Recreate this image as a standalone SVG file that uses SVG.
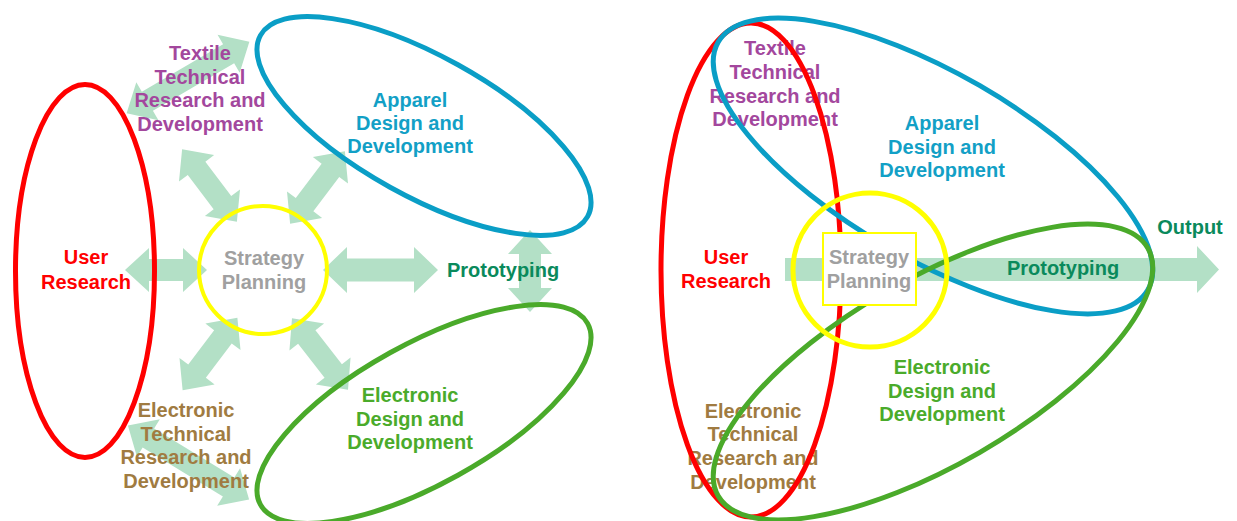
<svg xmlns="http://www.w3.org/2000/svg" width="1237" height="521" viewBox="0 0 1237 521">
<style>
  text { font-family: "Liberation Sans", Arial, sans-serif; font-weight: bold; font-size: 20px; text-anchor: middle; }
  .arrow { fill: #b3e0c6; stroke: none; }
  .ring { fill: none; stroke-width: 5; }
  .red { stroke: #ff0000; }
  .blue { stroke: #0a9ec6; }
  .green { stroke: #4aaa2a; }
  .yellow { stroke: #ffff00; }
  .t-red { fill: #ff0000; }
  .t-purple { fill: #a3479d; }
  .t-blue { fill: #12a0c6; }
  .t-green { fill: #4aab2b; }
  .t-brown { fill: #a07b41; }
  .t-proto { fill: #0a8a5c; }
  .t-gray { fill: #a0a0a0; }
</style>
<defs>
  <path id="dbl82" d="M-41,0 L-17,-22 L-17,-11 L17,-11 L17,-22 L41,0 L17,22 L17,11 L-17,11 L-17,22 Z"/>
  <path id="dbl91" d="M-45.5,0 L-21.5,-22 L-21.5,-11 L21.5,-11 L21.5,-22 L45.5,0 L21.5,22 L21.5,11 L-21.5,11 L-21.5,22 Z"/>
  <path id="dbl115" d="M-57.5,0 L-33.5,-23 L-33.5,-11.5 L33.5,-11.5 L33.5,-23 L57.5,0 L33.5,23 L33.5,11.5 L-33.5,11.5 L-33.5,23 Z"/>
  <path id="dbl142" d="M-71,0 L-47,-22 L-47,-11 L47,-11 L47,-22 L71,0 L47,22 L47,11 L-47,11 L-47,22 Z"/>
</defs>

<!-- ===== Left diagram ===== -->
<g id="connectors-left">
  <use href="#dbl82" class="arrow" transform="translate(166,270)"/>
  <use href="#dbl115" class="arrow" transform="translate(380.5,270)"/>
  <use href="#dbl91" class="arrow" transform="translate(209.5,185.5) rotate(53)"/>
  <use href="#dbl91" class="arrow" transform="translate(317.5,187.5) rotate(127)"/>
  <use href="#dbl91" class="arrow" transform="translate(210,354) rotate(127)"/>
  <use href="#dbl91" class="arrow" transform="translate(320,354) rotate(52)"/>
  <use href="#dbl142" class="arrow" transform="translate(188,77.5) rotate(-30.2)"/>
  <use href="#dbl142" class="arrow" transform="translate(188.5,462.5) rotate(31.4)"/>
  <use href="#dbl82" class="arrow" transform="translate(530,271) rotate(90)"/>
</g>

<g id="user-research-left">
  <ellipse class="ring red" cx="85" cy="271" rx="69.5" ry="186.5"/>
  <text class="t-red" x="86" y="264">User</text>
  <text class="t-red" x="86" y="289">Research</text>
</g>
<g id="textile-left">
  <text class="t-purple" x="200" y="60">Textile</text>
  <text class="t-purple" x="200" y="84">Technical</text>
  <text class="t-purple" x="200" y="107">Research and</text>
  <text class="t-purple" x="200" y="131">Development</text>
</g>
<g id="apparel-left">
  <ellipse class="ring blue" cx="424" cy="126" rx="187" ry="70" transform="rotate(29 424 126)"/>
  <text class="t-blue" x="410" y="107">Apparel</text>
  <text class="t-blue" x="410" y="130">Design and</text>
  <text class="t-blue" x="410" y="153">Development</text>
</g>
<g id="electronic-design-left">
  <ellipse class="ring green" cx="424" cy="414" rx="187" ry="70" transform="rotate(-29 424 414)"/>
  <text class="t-green" x="410" y="402">Electronic</text>
  <text class="t-green" x="410" y="426">Design and</text>
  <text class="t-green" x="410" y="449">Development</text>
</g>
<g id="electronic-tech-left">
  <text class="t-brown" x="186" y="417">Electronic</text>
  <text class="t-brown" x="186" y="441">Technical</text>
  <text class="t-brown" x="186" y="464">Research and</text>
  <text class="t-brown" x="186" y="488">Development</text>
</g>
<g id="strategy-left">
  <circle class="yellow" cx="263" cy="270" r="64" fill="none" stroke-width="4"/>
  <text class="t-gray" x="264" y="265">Strategy</text>
  <text class="t-gray" x="264" y="289">Planning</text>
</g>
<g id="prototyping-left">
  <text class="t-proto" x="503" y="277">Prototyping</text>
</g>

<!-- ===== Right diagram ===== -->
<g id="connectors-right">
  <path class="arrow" d="M785,258 H1197 V246 L1219,269.5 L1197,293 V281 H785 Z"/>
</g>
<g id="prototyping-right">
  <text class="t-proto" x="1063" y="275">Prototyping</text>
  <text class="t-proto" x="1190" y="234">Output</text>
</g>
<g id="textile-right">
  <text class="t-purple" x="775" y="55">Textile</text>
  <text class="t-purple" x="775" y="79">Technical</text>
  <text class="t-purple" x="775" y="103">Research and</text>
  <text class="t-purple" x="775" y="126">Development</text>
</g>
<g id="electronic-tech-right">
  <text class="t-brown" x="753" y="418">Electronic</text>
  <text class="t-brown" x="753" y="441">Technical</text>
  <text class="t-brown" x="753" y="465">Research and</text>
  <text class="t-brown" x="753" y="489">Development</text>
</g>
<g id="user-research-right">
  <ellipse class="ring red" cx="751" cy="270" rx="90" ry="247"/>
  <text class="t-red" x="726" y="264">User</text>
  <text class="t-red" x="726" y="288">Research</text>
</g>
<g id="apparel-right">
  <ellipse class="ring blue" cx="933" cy="166" rx="248" ry="93" transform="rotate(30 933 166)"/>
  <text class="t-blue" x="942" y="130">Apparel</text>
  <text class="t-blue" x="942" y="154">Design and</text>
  <text class="t-blue" x="942" y="177">Development</text>
</g>
<g id="electronic-design-right">
  <ellipse class="ring green" cx="933" cy="372" rx="248" ry="93" transform="rotate(-30 933 372)"/>
  <text class="t-green" x="942" y="374">Electronic</text>
  <text class="t-green" x="942" y="398">Design and</text>
  <text class="t-green" x="942" y="421">Development</text>
</g>
<g id="strategy-right">
  <circle class="yellow" cx="870" cy="270" r="77" fill="none" stroke-width="5"/>
  <rect x="823" y="233" width="93" height="72" fill="#ffffff" stroke="#ffff00" stroke-width="2"/>
  <text class="t-gray" x="869" y="264">Strategy</text>
  <text class="t-gray" x="869" y="288">Planning</text>
</g>
</svg>
